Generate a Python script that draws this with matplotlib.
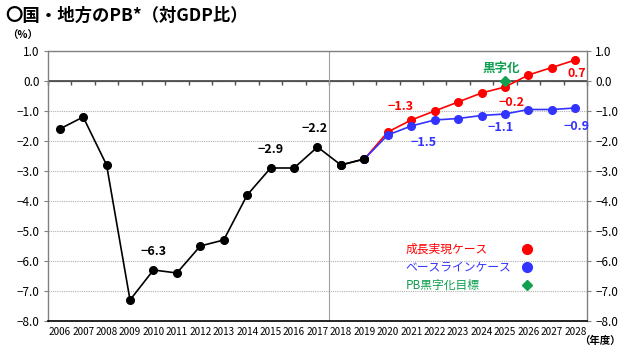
import matplotlib
matplotlib.use("Agg")
import matplotlib.pyplot as plt
import numpy as np

plt.rcParams['font.family'] = ['Noto Sans CJK JP', 'DejaVu Sans']

years = [str(y) for y in range(2006, 2029)]
actual_years = years[:14]            # 2006-2019
actual = [-1.6, -1.2, -2.8, -7.3, -6.3, -6.4, -5.5, -5.3, -3.8, -2.9, -2.9, -2.2, -2.8, -2.6]
proj_years = years[13:]              # 2019-2028
growth = [-2.6, -1.7, -1.3, -1.0, -0.7, -0.4, -0.2, 0.2, 0.45, 0.7]
baseline = [-2.6, -1.8, -1.5, -1.3, -1.25, -1.15, -1.1, -0.95, -0.95, -0.9]
target_year = '2025'
target_value = 0.0
yticks = [1.0, 0.0, -1.0, -2.0, -3.0, -4.0, -5.0, -6.0, -7.0, -8.0]

RED = '#ff0000'
BLUE = '#3333ff'
GREEN = '#10a050'

fig = plt.figure(figsize=(6.3, 3.52), dpi=100)
ax = fig.add_axes([0.0762, 0.0881, 0.8555, 0.767])

xi = {y: i for i, y in enumerate(years)}
ax.plot([xi[y] for y in actual_years], actual, color='black', lw=1.2, marker='o', ms=5.5, zorder=3)
ax.plot([xi[y] for y in proj_years], growth, color=RED, lw=1.2, marker='o', ms=5.5, zorder=4)
ax.plot([xi[y] for y in proj_years], baseline, color=BLUE, lw=1.2, marker='o', ms=5.5, zorder=5)
ax.plot([xi[y] for y in actual_years[-2:]], actual[-2:], color='black', lw=1.2, marker='o', ms=5.5, zorder=6)
ax.plot([xi[target_year]], [target_value], marker='D', color=GREEN, ms=5, ls='none', zorder=7)

ax.set_xlim(-0.5, len(years) - 0.5)
ax.set_ylim(-8.0, 1.0)
ax.set_xticks(range(len(years)))
ax.set_xticklabels(years, fontsize=7.2)
ax.tick_params(axis='x', length=0, pad=4)
ax.set_yticks(yticks)
ax.set_yticklabels([f"{v:.1f}".replace('-', '−') for v in yticks], fontsize=8.5)
ax.tick_params(axis='y', direction='out', length=3, color='#808080', labelright=True, right=True, pad=3)
ax.yaxis.grid(True, ls=(0, (1, 1)), color='#b0b0b0', lw=0.8)
ax.set_axisbelow(True)

for s in ['left', 'right', 'top']:
    ax.spines[s].set_color('#808080')
    ax.spines[s].set_linewidth(1.0)
ax.spines['bottom'].set_color('black')
ax.spines['bottom'].set_linewidth(1.2)

# zero axis with tick marks at category boundaries
ax.axhline(0.0, color='#505050', lw=1.3, zorder=2)
zero_pos = (0 - (-8.0)) / 9.0
sec = ax.secondary_xaxis(zero_pos)
sec.set_xticks(np.arange(-0.5, len(years), 1.0))
sec.tick_params(axis='x', direction='in', length=3, width=1.0, labelbottom=False, color='#505050')
sec.set_xticklabels([])
sec.spines['bottom'].set_visible(False)

# divider between actual and projections
ax.axvline(xi['2017'] + 0.5, color='#a0a0a0', lw=0.8)

bold = dict(fontsize=9, fontweight='bold', ha='center', va='center')
def lab(year, val, dx, dy, text, color):
    ax.annotate(text, (xi[year], val), xytext=(dx, dy), textcoords='offset points', color=color, **bold)

lab('2010', -6.3, 0, 13, '−6.3', 'black')
lab('2015', -2.9, 0, 13, '−2.9', 'black')
lab('2017', -2.2, -2, 13, '−2.2', 'black')
lab('2021', -1.3, -8, 10, '−1.3', RED)
lab('2025', -0.2, 5, -11, '−0.2', RED)
lab('2028', 0.7, 1, -10, '0.7', RED)
lab('2021', -1.5, 9, -12, '−1.5', BLUE)
lab('2025', -1.1, -3, -10, '−1.1', BLUE)
lab('2028', -0.9, 1, -13, '−0.9', BLUE)
lab(target_year, target_value, -3, 9, '黒字化', GREEN)

# legend as coloured text with markers
leg = [('成長実現ケース', RED, 'o'), ('ベースラインケース', BLUE, 'o'), ('PB黒字化目標', GREEN, 'D')]
for k, (t, c, m) in enumerate(leg):
    yy = 0.265 - k * 0.066
    ax.text(0.663, yy, t, color=c, fontsize=8.5, transform=ax.transAxes, va='center', ha='left')
    ax.plot([0.889], [yy], marker=m, color=c, ms=7 if m == 'o' else 5, transform=ax.transAxes, clip_on=False)

fig.text(0.008, 0.955, '〇国・地方のPB*（対GDP比）', fontsize=12.5, fontweight='bold', va='center', ha='left')
fig.text(0.012, 0.898, '（%）', fontsize=7.5, fontweight='bold', va='center', ha='left')
fig.text(0.985, 0.033, '（年度）', fontsize=7.5, fontweight='bold', va='center', ha='right')

fig.savefig('out.png', dpi=100)
